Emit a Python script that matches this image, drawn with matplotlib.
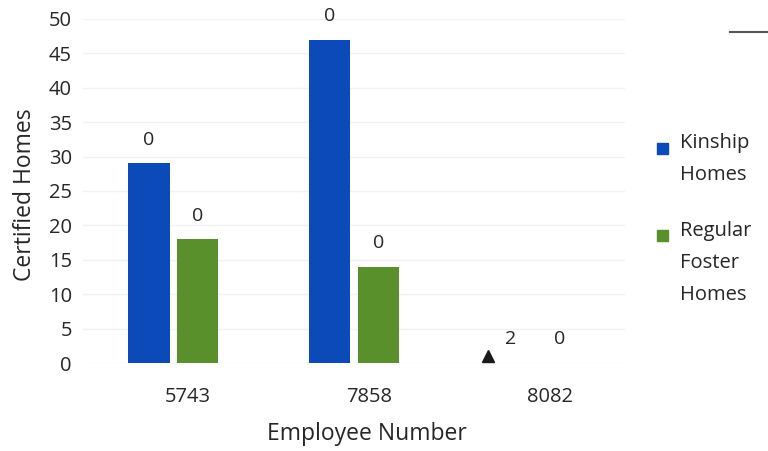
import numpy as np
import matplotlib.pyplot as plt
import matplotlib.transforms as mtransforms
from matplotlib.lines import Line2D
from matplotlib.patches import Rectangle

plt.rcParams['font.family'] = ['Open Sans', 'DejaVu Sans']

employees = ['5743', '7858', '8082']
kinship = [29, 47, 0]
regular = [18, 14, 0]
# data labels as printed on the scanned chart
kinship_labels = ['0', '0', '2']
regular_labels = ['0', '0', '0']
marker_value = 1  # small triangle near 8082
legend_names = ['Kinship\nHomes', 'Regular\nFoster\nHomes']

blue = '#0b4ab8'
green = '#5a902b'
txt = '#262626'

fig = plt.figure(figsize=(7.68, 4.51), dpi=100)
ax = fig.add_axes([0.108, 0.195, 0.706, 0.763])

x = np.arange(len(employees))
w = 0.23
off = 0.135
b1 = ax.bar(x - off, kinship, w, color=blue)
b2 = ax.bar(x + off, regular, w, color=green)

for bars, labels in [(b1, kinship_labels), (b2, regular_labels)]:
    for r, lab in zip(bars, labels):
        ax.annotate(lab, (r.get_x() + r.get_width() / 2, r.get_height()),
                    xytext=(0, 17), textcoords='offset points',
                    ha='center', va='center', fontsize=14, color=txt,
                    annotation_clip=False)

ax.plot(x[2] - 0.26, marker_value, marker='^', color='#1a1a1a',
        markersize=9, linestyle='none')

ax.set_ylim(0, 50)
ax.set_xlim(-0.5, 2.5)
ax.set_yticks(range(0, 51, 5))
ax.set_xticks(x)
ax.set_xticklabels(employees)
ax.tick_params(axis='both', length=0, labelsize=14.5, labelcolor=txt)
ax.tick_params(axis='y', pad=8)
ax.tick_params(axis='x', pad=17)
shift = mtransforms.ScaledTranslation(0.15, 0, fig.dpi_scale_trans)
for lab in ax.get_xticklabels():
    lab.set_transform(lab.get_transform() + shift)

ax.yaxis.grid(True, color='#f2f2f2', linewidth=1)
ax.set_axisbelow(True)
for s in ax.spines.values():
    s.set_visible(False)

ax.set_xlabel('Employee Number', fontsize=16.5, color=txt)
ax.xaxis.set_label_coords(0.524, -0.172)
ax.set_ylabel('Certified Homes', fontsize=16.5, color=txt)
ax.yaxis.set_label_coords(-0.084, 0.488)

# legend drawn by hand: swatch sits beside the first line of each label
legend_top = [0.704, 0.511]
for name, col, yt in zip(legend_names, [blue, green], legend_top):
    fig.text(0.885, yt, name, fontsize=14.5, color=txt, va='top', ha='left',
             linespacing=1.8)
    fig.add_artist(Rectangle((0.855, yt - 0.046), 0.0145, 0.025,
                             transform=fig.transFigure, color=col))

fig.add_artist(Line2D([0.951, 1.0], [0.929, 0.929], color='#555555', linewidth=1.5))

fig.savefig('out.png', dpi=100)
